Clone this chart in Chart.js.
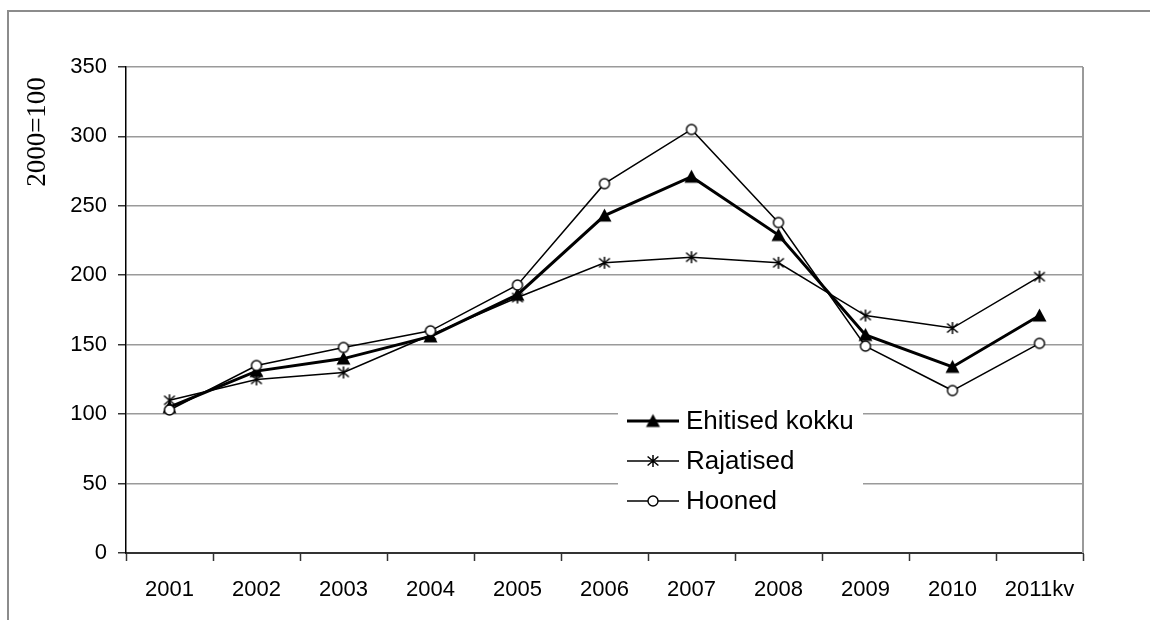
<!DOCTYPE html>
<html>
<head>
<meta charset="utf-8">
<script src="https://cdn.jsdelivr.net/npm/chart.js@4.4.1/dist/chart.umd.min.js"></script>
<style>
  html, body { margin: 0; padding: 0; background: #fff; }
  canvas { display: block; }
</style>
</head>
<body>
<canvas id="c" width="1150" height="620"></canvas>
<script>
// Ehitusmahuindeks, 2000 = 100
const categories = ['2001', '2002', '2003', '2004', '2005', '2006', '2007', '2008', '2009', '2010', '2011kv'];
const ehitisedKokku = [105, 131, 140, 156, 186, 243, 271, 229, 157, 134, 171];
const rajatised = [110, 125, 130, 157, 184, 209, 213, 209, 171, 162, 199];
const hooned = [103, 135, 148, 160, 193, 266, 305, 238, 149, 117, 151];
const yTicks = [0, 50, 100, 150, 200, 250, 300, 350];
const yTitle = '2000=100';

const FONT = "'Liberation Sans', Arial, sans-serif";
const SERIF = "'Liberation Serif', 'DejaVu Serif', 'Times New Roman', serif";

// Marker images
function makeMarker(size, draw) {
  const c = document.createElement('canvas');
  c.width = size; c.height = size;
  const g = c.getContext('2d');
  draw(g, size);
  return c;
}
const triangleMarker = makeMarker(17, (g, s) => {
  g.fillStyle = '#000';
  g.beginPath();
  g.moveTo(s / 2, 1.5);
  g.lineTo(s - 1.5, s - 2.5);
  g.lineTo(1.5, s - 2.5);
  g.closePath();
  g.fill();
});
const asteriskMarker = makeMarker(16, (g, s) => {
  g.strokeStyle = '#000';
  g.lineWidth = 1.5;
  const c = s / 2, r = 6;
  g.beginPath();
  g.moveTo(c, c - r); g.lineTo(c, c + r);
  g.moveTo(c - r * 0.9, c - r * 0.75); g.lineTo(c + r * 0.9, c + r * 0.75);
  g.moveTo(c - r * 0.9, c + r * 0.75); g.lineTo(c + r * 0.9, c - r * 0.75);
  g.stroke();
});
const circleMarker = makeMarker(14, (g, s) => {
  g.fillStyle = '#fff';
  g.strokeStyle = '#000';
  g.lineWidth = 1.4;
  g.beginPath();
  g.arc(s / 2, s / 2, 5, 0, Math.PI * 2);
  g.fill();
  g.stroke();
});

// Frame, plot border, axis title and legend
const decorations = {
  id: 'decorations',
  beforeDraw(chart) {
    const ctx = chart.ctx;
    ctx.save();
    ctx.fillStyle = '#fff';
    ctx.fillRect(0, 0, chart.width, chart.height);
    ctx.strokeStyle = '#8c8c8c';
    ctx.lineWidth = 2;
    ctx.beginPath();
    ctx.moveTo(8, chart.height);
    ctx.lineTo(8, 11);
    ctx.lineTo(chart.width, 11);
    ctx.stroke();
    ctx.restore();
  },
  beforeDatasetsDraw(chart) {
    const { ctx, chartArea } = chart;
    ctx.save();
    ctx.strokeStyle = '#9a9a9a';
    ctx.lineWidth = 2;
    ctx.beginPath();
    ctx.moveTo(chartArea.right, chartArea.top);
    ctx.lineTo(chartArea.right, chartArea.bottom);
    ctx.stroke();
    ctx.restore();
  },
  afterDraw(chart) {
    const { ctx, chartArea } = chart;
    ctx.save();
    // y-axis title
    ctx.translate(38, 132);
    ctx.rotate(-Math.PI / 2);
    ctx.fillStyle = '#000';
    ctx.font = '27px ' + SERIF;
    ctx.textAlign = 'center';
    ctx.textBaseline = 'middle';
    ctx.fillText(yTitle, 0, 0);
    ctx.restore();

    // legend
    const boxL = chartArea.left + 492, boxT = 396, boxW = 245, boxH = 126;
    ctx.save();
    ctx.fillStyle = '#fff';
    ctx.fillRect(boxL, boxT, boxW, boxH);
    chart.data.datasets.forEach((ds, i) => {
      const y = 421 + i * 40;
      const x0 = boxL + 9, x1 = boxL + 61;
      ctx.strokeStyle = '#000';
      ctx.lineWidth = ds.borderWidth;
      ctx.beginPath();
      ctx.moveTo(x0, y);
      ctx.lineTo(x1, y);
      ctx.stroke();
      const m = ds.pointStyle;
      ctx.drawImage(m, (x0 + x1) / 2 - m.width / 2, y - m.height / 2);
      ctx.fillStyle = '#000';
      ctx.font = '26px ' + FONT;
      ctx.textAlign = 'left';
      ctx.textBaseline = 'middle';
      ctx.fillText(ds.label, boxL + 68, y + 1);
    });
    ctx.restore();
  }
};

new Chart(document.getElementById('c'), {
  type: 'line',
  data: {
    labels: categories,
    datasets: [
      { label: 'Ehitised kokku', data: ehitisedKokku, borderColor: '#000', borderWidth: 3, pointStyle: triangleMarker, order: 1 },
      { label: 'Rajatised', data: rajatised, borderColor: '#000', borderWidth: 1.5, pointStyle: asteriskMarker, order: 2 },
      { label: 'Hooned', data: hooned, borderColor: '#000', borderWidth: 1.5, pointStyle: circleMarker, order: 0 }
    ]
  },
  options: {
    responsive: false,
    animation: false,
    events: [],
    tension: 0,
    layout: { padding: { left: 0, top: 67, right: 67, bottom: 17 } },
    plugins: { legend: { display: false }, tooltip: { enabled: false } },
    scales: {
      x: {
        offset: true,
        afterFit(scale) { scale.height = 50; },
        grid: { offset: true, drawOnChartArea: false, drawTicks: true, tickLength: 8, tickColor: '#333', tickWidth: 1.5 },
        border: { display: true, color: '#333', width: 2 },
        ticks: { color: '#000', font: { family: FONT, size: 22 }, padding: 16, maxRotation: 0, autoSkip: false }
      },
      y: {
        min: 0,
        max: 350,
        afterFit(scale) { scale.width = 126; },
        afterBuildTicks(scale) { scale.ticks = yTicks.map(v => ({ value: v })); },
        grid: { color: '#9a9a9a', lineWidth: 1.6, tickLength: 8, tickColor: '#000', tickWidth: 1.2 },
        border: { display: true, color: '#000', width: 1.5 },
        ticks: { color: '#000', font: { family: FONT, size: 22 }, padding: 11 }
      }
    }
  },
  plugins: [decorations]
});
</script>
</body>
</html>
